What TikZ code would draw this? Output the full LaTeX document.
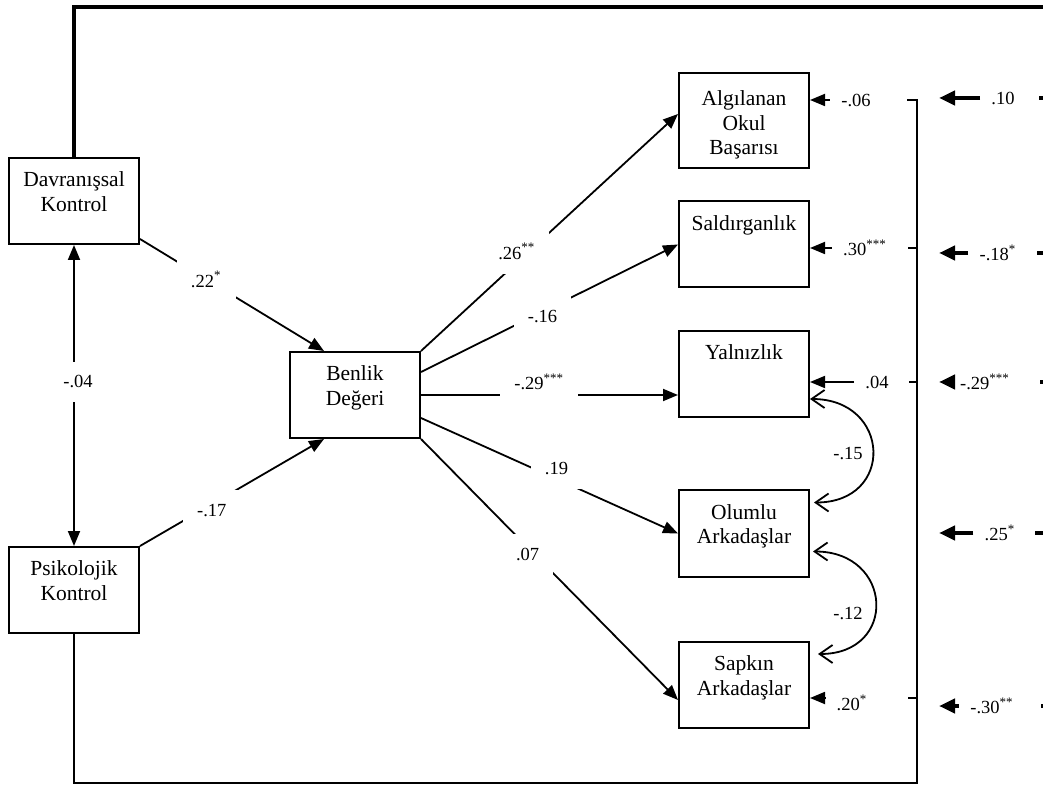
\documentclass[tikz,border=0pt]{standalone}
\usepackage{fontspec}
\setmainfont{Liberation Serif}
\usetikzlibrary{arrows.meta}
\newcommand{\bxt}[3]{\parbox[c][#1][t]{65pt}{\centering\vspace*{#2}#3}}
\newcommand{\sig}[1]{\textsuperscript{#1}}
\begin{document}
\begin{tikzpicture}[x=0.5pt,y=-0.5pt,
  bx/.style={draw, line width=1pt, inner sep=0pt, font=\fontsize{10.75}{12.25}\selectfont},
  ln/.style={line width=0.9pt},
  arr/.style={ln, -{Triangle[length=7.5pt,width=6pt]}},
  darr/.style={ln, {Triangle[length=7.5pt,width=6pt]}-{Triangle[length=7.5pt,width=6pt]}},
  carr/.style={ln, {Straight Barb[length=6.5pt,width=9pt]}-{Straight Barb[length=6.5pt,width=9pt]}},
  tarr/.style={line width=2pt, -{Triangle[length=8pt,width=7pt]}},
  thk/.style={line width=2pt},
  lbl/.style={fill=white, inner xsep=7pt, inner ysep=7pt, font=\fontsize{9.25}{11}\selectfont},
  elbl/.style={inner sep=5.5pt, font=\fontsize{9.25}{11}\selectfont},
]
\useasboundingbox (0,0) rectangle (1043,785);

% boxes
\node[bx] (dk)  at (74,201)    {\bxt{43pt}{7pt}{Davranışsal\\Kontrol}};
\node[bx] (pk)  at (74,590)    {\bxt{43pt}{7pt}{Psikolojik\\Kontrol}};
\node[bx] (bd)  at (355,395)   {\bxt{43pt}{7pt}{Benlik\\Değeri}};
\node[bx] (alg) at (744,120.5) {\bxt{47.5pt}{9pt}{Algılanan\\Okul\\Başarısı}};
\node[bx] (sal) at (744,244.5) {\bxt{43pt}{7pt}{Saldırganlık}};
\node[bx] (yal) at (744,374)   {\bxt{43pt}{7pt}{Yalnızlık}};
\node[bx] (olu) at (744,533.5) {\bxt{43pt}{7pt}{Olumlu\\Arkadaşlar}};
\node[bx] (sap) at (744,685)   {\bxt{43pt}{7pt}{Sapkın\\Arkadaşlar}};

% frame lines
\coordinate (tr) at (1043,7);
\coordinate (vb) at (917,783);
\coordinate (vt) at (917,100);
\coordinate (t2) at (917,248);
\coordinate (t3) at (917,382);
\coordinate (t4) at (917,698);
\draw[thk] (dk.north) |- (tr);
\draw[ln] (pk.south) |- (vb) -- (vt) -- ++(-10,0);
\draw[ln] (t2) -- ++(-9,0);
\draw[ln] (t3) -- ++(-8,0);
\draw[ln] (t4) -- ++(-9,0);

% paths
\draw[darr] (dk.south) -- node[lbl,pos=0.455,xshift=2pt]{-.04} (pk.north);
\draw[arr] ([yshift=3pt]dk.south east) -- node[lbl,pos=0.36]{.22\sig{*}} ([xshift=17.5pt]bd.north west);
\draw[arr] (pk.north east) -- node[lbl,pos=0.39,yshift=-3pt]{-.17} ([xshift=17.5pt]bd.south west);
\draw[arr] (bd.north east) -- node[lbl,pos=0.373,yshift=5.5pt]{.26\sig{**}} ([yshift=3.25pt]alg.west);
\draw[arr] ([yshift=-10.5pt]bd.north east) -- node[lbl,pos=0.473,yshift=-2.5pt]{-.16} (sal.west);
\draw[arr] (bd.east) -- node[lbl,pos=0.46,yshift=6.5pt]{-.29\sig{***}} (bd.east -| yal.west);
\draw[arr] ([yshift=10.5pt]bd.south east) -- node[lbl,pos=0.527,yshift=5pt]{.19} (olu.west);
\draw[arr] (bd.south east) -- node[lbl,pos=0.415,yshift=-3.5pt]{.07} ([yshift=-7.5pt]sap.west);

% covariances
\draw[carr] ([yshift=9.5pt]yal.south east) to[out=0,in=0,looseness=2] ([xshift=2pt,yshift=-6.5pt]olu.north east);
\node[elbl] (c1) at (848,454) {-.15};
\draw[carr] ([xshift=1.5pt,yshift=13pt]olu.south east) to[out=0,in=0,looseness=2] ([xshift=4pt,yshift=-6.5pt]sap.north east);
\node[elbl] (c2) at (848,614) {-.12};

% error terms
\node[elbl] (e1) at (856,100) {-.06};
\draw[arr] (e1.west) -- (e1.west -| alg.east);
\node[elbl] (e2) at (865,248) {.30\sig{***}};
\draw[arr] (e2.west) -- (e2.west -| sal.east);
\node[elbl] (e3) at (877,382) {.04};
\draw[arr] (e3.west) -- (e3.west -| yal.east);
\node[elbl] (e4) at (852,703) {.20\sig{*}};
\draw[arr] ([yshift=2.5pt]e4.west) -- ([yshift=2.5pt]e4.west -| sap.east);

% right column
\node[elbl] (r1) at (1003,98) {.10};
\node[elbl] (r2) at (998,253) {-.18\sig{*}};
\node[elbl] (r3) at (985,382) {-.29\sig{***}};
\node[elbl] (r4) at (1000,533) {.25\sig{*}};
\node[elbl] (r5) at (992,706) {-.30\sig{**}};
\coordinate (q1) at (939,98);
\coordinate (q2) at (939,253);
\coordinate (q3) at (939,382);
\coordinate (q4) at (939,533);
\coordinate (q5) at (939,706);
\draw[tarr] (r1.west) -- (q1);
\draw[tarr] (r2.west) -- (q2);
\draw[tarr] (r3.west) -- (q3);
\draw[tarr] (r4.west) -- (q4);
\draw[tarr] (r5.west) -- (q5);
\draw[thk] (1039,98) -- (1043,98);
\draw[thk] (1037,253) -- (1043,253);
\draw[thk] (1040,382) -- (1043,382);
\draw[thk] (1035,533) -- (1043,533);
\draw[thk] (1041,706) -- (1043,706);
\end{tikzpicture}
\end{document}
